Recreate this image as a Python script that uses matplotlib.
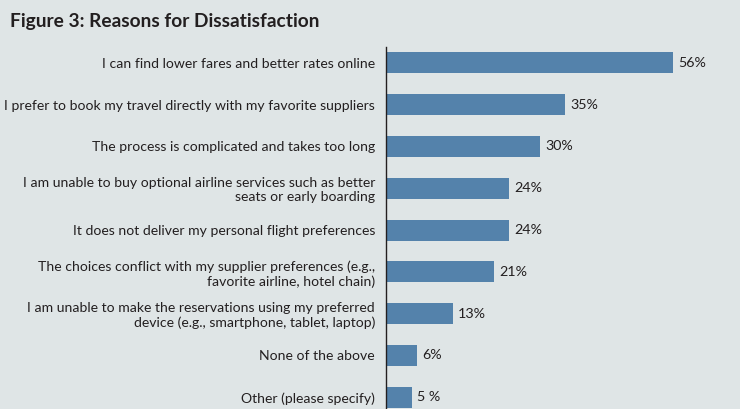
import numpy as np
import matplotlib.pyplot as plt

# data
reasons = [
    "I can find lower fares and better rates online",
    "I prefer to book my travel directly with my favorite suppliers",
    "The process is complicated and takes too long",
    "I am unable to buy optional airline services such as better\nseats or early boarding",
    "It does not deliver my personal flight preferences",
    "The choices conflict with my supplier preferences (e.g.,\nfavorite airline, hotel chain)",
    "I am unable to make the reservations using my preferred\ndevice (e.g., smartphone, tablet, laptop)",
    "None of the above",
    "Other (please specify)",
]
percent = [56, 35, 30, 24, 24, 21, 13, 6, 5]
value_labels = ["56%", "35%", "30%", "24%", "24%", "21%", "13%", "6%", "5 %"]

BG = "#dfe5e6"
BAR = "#5482ab"
TXT = "#231f20"

plt.rcParams['font.family'] = ['Lato', 'DejaVu Sans']

fig = plt.figure(figsize=(7.4, 4.09), dpi=100, facecolor=BG)
ax = fig.add_axes([386 / 740, 0.0, 354 / 740, 362 / 409])
ax.set_facecolor(BG)

y = np.arange(len(reasons))
ax.barh(y, percent, height=0.5, color=BAR)

for yi, v, lab in zip(y, percent, value_labels):
    ax.text(v + 1.1, yi, lab, va="center", ha="left", fontsize=10.3, color=TXT)

ax.set_yticks(y)
ax.set_yticklabels(reasons, fontsize=10.1, color=TXT, linespacing=1.2)
ax.tick_params(axis="y", length=0, pad=8)
ax.set_xticks([])
ax.set_xlim(0, 354 / 5.12)
ax.set_ylim(8.28, -0.38)

for s in ["top", "right", "bottom"]:
    ax.spines[s].set_visible(False)
ax.spines["left"].set_color(TXT)
ax.spines["left"].set_linewidth(1.0)

fig.text(10 / 740, 1 - 21 / 409, "Figure 3: Reasons for Dissatisfaction",
         fontsize=13.8, fontweight="bold", color=TXT, ha="left", va="center")

fig.savefig("out.png", dpi=100, facecolor=BG)
